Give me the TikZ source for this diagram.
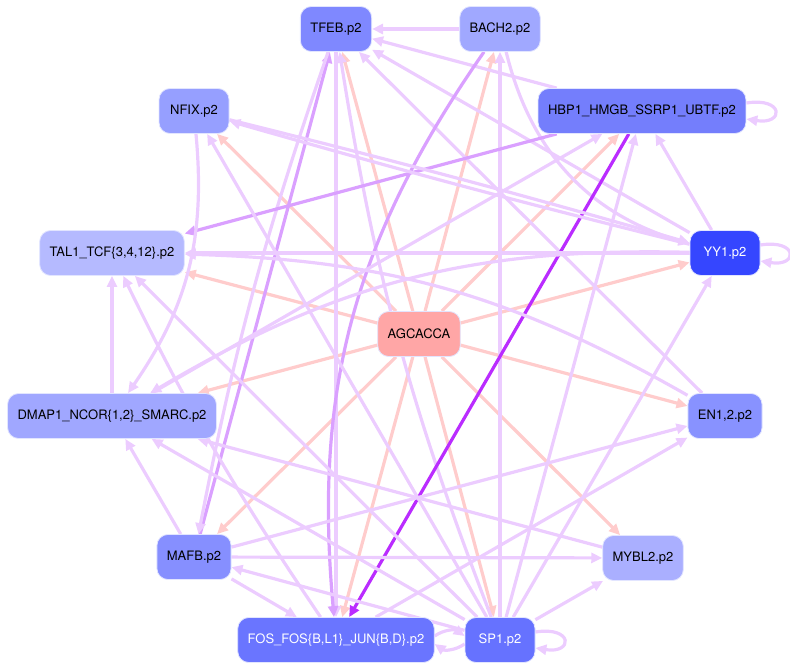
\documentclass[tikz,border=0pt]{standalone}
\usepackage{fontspec}
\setmainfont{TeX Gyre Heros}
\usetikzlibrary{arrows.meta}

\definecolor{lila}{RGB}{236,204,255}
\definecolor{mittellila}{RGB}{218,160,255}
\definecolor{starklila}{RGB}{186,44,255}
\definecolor{rosa}{RGB}{255,204,204}
\definecolor{rand}{RGB}{226,229,255}
\definecolor{cTFEB}{RGB}{127,136,255}
\definecolor{cBACH}{RGB}{160,168,255}
\definecolor{cNFIX}{RGB}{150,159,255}
\definecolor{cHBP}{RGB}{116,126,252}
\definecolor{cTAL}{RGB}{181,186,255}
\definecolor{cYY}{RGB}{53,70,255}
\definecolor{cAGC}{RGB}{255,166,166}
\definecolor{cDMAP}{RGB}{160,167,255}
\definecolor{cEN}{RGB}{136,146,255}
\definecolor{cMAFB}{RGB}{134,143,255}
\definecolor{cMYBL}{RGB}{170,175,255}
\definecolor{cFOS}{RGB}{106,117,255}
\definecolor{cSP}{RGB}{102,114,255}

\pgfdeclarelayer{bg}
\pgfsetlayers{bg,main}

\tikzset{
  tf/.style={draw=rand, line width=0.8pt, rounded corners=11pt, minimum width=70pt, minimum height=45pt, inner xsep=10pt, font=\fontsize{13}{15}\selectfont},
  edg/.style={draw=lila, line width=3.2pt, -{Triangle[length=11pt,width=10pt]}},
  edgm/.style={edg, draw=mittellila},
  edgs/.style={edg, draw=starklila},
  edgp/.style={edg, draw=rosa},
}

\begin{document}
\begin{tikzpicture}[x=1pt, y=1pt]
\useasboundingbox (0,0) rectangle (790,-671);

% nodes
\node[tf, fill=cTFEB] (TFEB) at (336,-29) {TFEB.p2};
\node[tf, fill=cBACH] (BACH) at (500,-29) {BACH2.p2};
\node[tf, fill=cNFIX] (NFIX) at (194,-111) {NFIX.p2};
\node[tf, fill=cHBP] (HBP) at (642,-111) {HBP1\_HMGB\_SSRP1\_UBTF.p2};
\node[tf, fill=cTAL] (TAL) at (112,-253) {TAL1\_TCF\{3,4,12\}.p2};
\node[tf, fill=cYY, text=white] (YY) at (725,-253) {YY1.p2};
\node[tf, fill=cAGC] (AGC) at (419,-334) {AGCACCA};
\node[tf, fill=cDMAP] (DMAP) at (112,-416) {DMAP1\_NCOR\{1,2\}\_SMARC.p2};
\node[tf, fill=cEN] (EN) at (725,-416) {EN1,2.p2};
\node[tf, fill=cMAFB] (MAFB) at (194,-557) {MAFB.p2};
\node[tf, fill=cMYBL] (MYBL) at (643,-558) {MYBL2.p2};
\node[tf, fill=cFOS, text=white] (FOS) at (336,-640) {FOS\_FOS\{B,L1\}\_JUN\{B,D\}.p2};
\node[tf, fill=cSP, text=white] (SP) at (500,-640) {SP1.p2};

\begin{pgfonlayer}{bg}
% motif edges
\foreach \t in {TFEB,BACH,NFIX,HBP,TAL,YY,DMAP,EN,MAFB,MYBL,FOS,SP}
  \draw[edgp] (AGC) -- (\t);

% factor edges
\draw[edg] (BACH) -- (TFEB);
\draw[edg] (HBP) -- (TFEB);
\draw[edg] (YY) -- (TFEB);
\draw[edg] (EN) -- (TFEB);
\draw[edg] (SP) to[bend left=6] (TFEB);
\draw[edgm] (MAFB) -- (TFEB);
\draw[edg] (TFEB) to[bend right=4] (MAFB);
\draw[edg] (TFEB) -- (FOS);
\draw[edgm] (BACH) to[bend right=20] (FOS);
\draw[edg] (SP) -- (BACH);
\draw[edg] (BACH) to[bend right=30] (YY);
\draw[edgm] (HBP) -- (TAL);
\draw[edgs] (HBP) -- (FOS);
\draw[edg] (DMAP) -- (HBP);
\draw[edg] (SP) -- (HBP);
\draw[edg] (YY) -- (HBP);
\draw[edg] (YY) to[bend left=1] (NFIX);
\draw[edg] (NFIX) to[bend left=1] (YY);
\draw[edg] (YY) -- (TAL);
\draw[edg] (EN) to[bend right=14] (TAL);
\draw[edg] (YY) to[bend right=16] (DMAP);
\draw[edg] (NFIX) to[bend left=20] (DMAP);
\draw[edg] (SP) -- (NFIX);
\draw[edg] (DMAP) -- (TAL);
\draw[edg] (SP) -- (TAL);
\draw[edg] (FOS) to[bend left=4] (TAL);
\draw[edg] (MAFB) -- (DMAP);
\draw[edg] (SP) -- (DMAP);
\draw[edg] (MYBL) -- (DMAP);
\draw[edg] (MAFB) -- (MYBL);
\draw[edg] (MAFB) -- (EN);
\draw[edg] (SP) -- (MAFB);
\draw[edg] (MAFB) -- (FOS);
\draw[edg] (FOS) -- (EN);
\draw[edg] (SP) -- (YY);
\draw[edg] (SP) -- (MYBL);
\draw[edg] ([yshift=4pt]FOS.east) to[bend left=35] ([yshift=4pt]SP.west);
\draw[edg] ([yshift=-4pt]SP.west) to[bend left=35] ([yshift=-4pt]FOS.east);

% self loops
\draw[edg] ([yshift=8pt]HBP.east) .. controls +(38pt,6pt) and +(38pt,-6pt) .. ([yshift=-8pt]HBP.east);
\draw[edg] ([yshift=8pt]YY.east) .. controls +(38pt,6pt) and +(38pt,-6pt) .. ([yshift=-8pt]YY.east);
\draw[edg] ([yshift=8pt]SP.east) .. controls +(38pt,6pt) and +(38pt,-6pt) .. ([yshift=-8pt]SP.east);
\end{pgfonlayer}
\end{tikzpicture}
\end{document}
